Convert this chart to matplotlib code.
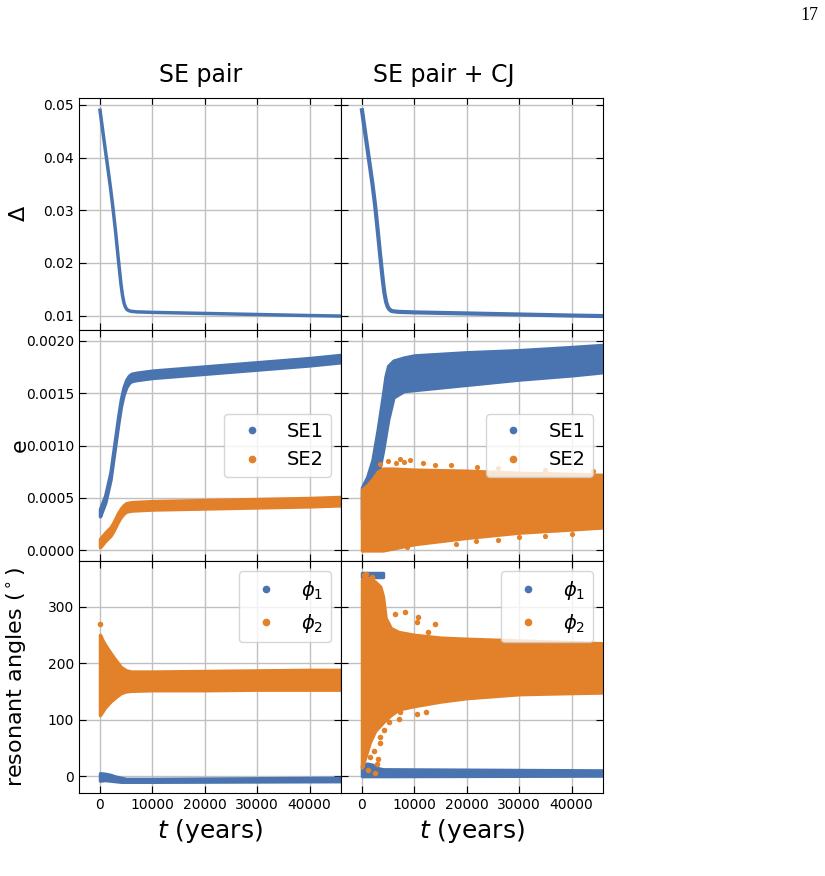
import matplotlib.pyplot as plt
from matplotlib.lines import Line2D

blue = '#4a74b0'
orange = '#e3802a'

# ---- Delta ----
t_delta_l = [0, 500, 1000, 1500, 2000, 2500, 3000, 3500, 4000, 4300, 4600, 4900, 5200, 5600, 6000, 7000, 10000, 20000, 30000, 40000, 46000]
delta_l = [0.0490, 0.0453, 0.0416, 0.0380, 0.0343, 0.0302, 0.0257, 0.0207, 0.0160, 0.0138, 0.0123, 0.0115, 0.0111, 0.0109, 0.0108, 0.0107, 0.0106, 0.0104, 0.0102, 0.0100, 0.0099]
t_delta_r = [0, 500, 1000, 1500, 2000, 2500, 3000, 3500, 4000, 4300, 4600, 4900, 5200, 5600, 6000, 7000, 10000, 20000, 30000, 40000, 46000]
delta_r = [0.0490, 0.0455, 0.0420, 0.0385, 0.0350, 0.0310, 0.0262, 0.0212, 0.0165, 0.0142, 0.0126, 0.0117, 0.0112, 0.0109, 0.0108, 0.0107, 0.0106, 0.0104, 0.0102, 0.0100, 0.0099]

# ---- eccentricities, SE pair ----
t_e1_l = [0, 1000, 2000, 3000, 3500, 4000, 4500, 5000, 5500, 6000, 7000, 10000, 20000, 30000, 40000, 46000]
e1_l_lo = [0.000325, 0.000455, 0.000675, 0.001035, 0.001215, 0.001375, 0.001485, 0.001555, 0.001595, 0.001615, 0.001625, 0.001645, 0.001685, 0.001725, 0.001765, 0.001795]
e1_l_hi = [0.000395, 0.000525, 0.000745, 0.001105, 0.001285, 0.001445, 0.001555, 0.001625, 0.001665, 0.001685, 0.001695, 0.001715, 0.001755, 0.001795, 0.001835, 0.001865]
t_e2_l = [0, 1000, 2000, 2500, 3000, 3500, 4000, 4500, 5000, 6000, 10000, 20000, 30000, 40000, 46000]
e2_l_lo = [0.00003, 0.00009, 0.00014, 0.00018, 0.00023, 0.00028, 0.00032, 0.00035, 0.00037, 0.00038, 0.00039, 0.00040, 0.00041, 0.00042, 0.00043]
e2_l_hi = [0.00011, 0.00017, 0.00022, 0.00026, 0.00031, 0.00036, 0.00040, 0.00043, 0.00045, 0.00046, 0.00047, 0.00048, 0.00049, 0.00050, 0.00051]

# ---- eccentricities, SE pair + CJ ----
t_e1_r = [0, 1000, 2000, 3000, 4000, 4500, 5000, 6000, 8000, 10000, 20000, 30000, 40000, 46000]
e1_r_hi = [0.00060, 0.00070, 0.00086, 0.00115, 0.00148, 0.00166, 0.00176, 0.00181, 0.00184, 0.00186, 0.00189, 0.00191, 0.00194, 0.00196]
e1_r_lo = [0.00030, 0.00040, 0.00052, 0.00070, 0.00095, 0.00110, 0.00125, 0.00146, 0.00152, 0.00153, 0.00158, 0.00163, 0.00167, 0.00170]
t_e2_r = [0, 1000, 2000, 3000, 4000, 6000, 10000, 20000, 30000, 40000, 46000]
e2_r_hi = [0.00058, 0.00062, 0.00068, 0.00075, 0.00078, 0.00078, 0.00077, 0.00076, 0.00074, 0.00073, 0.00072]
e2_r_lo = [0.00000, 0.00000, 0.00000, 0.00000, 0.00000, 0.00002, 0.00006, 0.00012, 0.00017, 0.00020, 0.00022]
e2_r_out_t = [3500, 5000, 6500, 7300, 8000, 9200, 11700, 14000, 17000, 22000, 26000, 35000, 44000,
              8500, 11000, 14800, 18000, 21800, 26000, 30000, 35000, 40000]
e2_r_out_e = [0.00082, 0.00085, 0.00083, 0.00087, 0.00084, 0.00086, 0.00083, 0.00081, 0.00081, 0.00080, 0.00079, 0.00077, 0.00076,
              0.00003, 0.00008, 0.00010, 0.00006, 0.00009, 0.00010, 0.00013, 0.00014, 0.00016]

# ---- resonant angles, SE pair ----
t_p1_l = [0, 1000, 2000, 3000, 4000, 5000, 6000, 10000, 46000]
p1_l_hi = [5, 4, 2, -1, -3, -5, -5, -5, -3]
p1_l_lo = [-8, -7, -8, -9, -10, -10, -10, -10, -9]
t_p2_l = [0, 500, 1000, 2000, 3000, 4000, 5000, 6000, 10000, 20000, 30000, 40000, 46000]
p2_l_hi = [250, 240, 232, 218, 205, 193, 187, 185, 185, 186, 187, 188, 188]
p2_l_lo = [108, 115, 122, 132, 140, 147, 150, 151, 152, 152, 153, 153, 153]
p2_l_out_t = [0]
p2_l_out_p = [270]

# ---- resonant angles, SE pair + CJ ----
t_p1_r = [0, 1000, 2000, 3000, 4000, 46000]
p1_r_hi = [20, 22, 20, 14, 12, 10]
p1_r_lo = [0, 0, 0, 0, 0, 1]
t_p1_r_top = [0, 4000]
p1_r_top_lo = [353, 353]
p1_r_top_hi = [359, 359]
t_p2_r = [0, 500, 1500, 2500, 3500, 4000, 4500, 5500, 7000, 10000, 15000, 20000, 30000, 40000, 46000]
p2_r_hi = [348, 352, 350, 344, 335, 318, 280, 262, 255, 250, 245, 243, 240, 237, 235]
p2_r_lo = [15, 30, 60, 80, 90, 95, 100, 108, 118, 124, 132, 138, 145, 147, 148]
p2_r_out_t = [6340, 8250, 10780, 10500, 13960, 12690, 7300, 10470, 12280, 6980, 5080, 4120, 3360, 2220, 3490, 1590, 2860, 1200, 2500, 800, 3000, 300, 2000]
p2_r_out_p = [287, 290, 281, 272, 269, 255, 113, 110, 113, 101, 95, 81, 69, 45, 58, 34, 22, 10, 5, 358, 30, 356, 353]

fig, axes = plt.subplots(3, 2, sharex=True, sharey='row', figsize=(8.25, 8.76))
plt.subplots_adjust(left=0.0958, right=0.7309, top=0.888, bottom=0.0947, wspace=0, hspace=0)


def band(ax, t, lo, hi, c):
    ax.fill_between(t, lo, hi, color=c, edgecolor=c, lw=2.5)


# row 1: Delta
axes[0, 0].plot(t_delta_l, delta_l, color=blue, lw=2.5)
axes[0, 1].plot(t_delta_r, delta_r, color=blue, lw=3)

# row 2: e
band(axes[1, 0], t_e1_l, e1_l_lo, e1_l_hi, blue)
band(axes[1, 0], t_e2_l, e2_l_lo, e2_l_hi, orange)
band(axes[1, 1], t_e1_r, e1_r_lo, e1_r_hi, blue)
band(axes[1, 1], t_e2_r, e2_r_lo, e2_r_hi, orange)
axes[1, 1].scatter(e2_r_out_t, e2_r_out_e, s=14, color=orange, lw=0)

# row 3: resonant angles
band(axes[2, 0], t_p1_l, p1_l_lo, p1_l_hi, blue)
band(axes[2, 0], t_p2_l, p2_l_lo, p2_l_hi, orange)
axes[2, 0].scatter(p2_l_out_t, p2_l_out_p, s=16, color=orange, lw=0)
band(axes[2, 1], t_p1_r, p1_r_lo, p1_r_hi, blue)
band(axes[2, 1], t_p1_r_top, p1_r_top_lo, p1_r_top_hi, blue)
band(axes[2, 1], t_p2_r, p2_r_lo, p2_r_hi, orange)
axes[2, 1].scatter(p2_r_out_t, p2_r_out_p, s=16, color=orange, lw=0)

for ax in axes.flat:
    ax.set_axisbelow(True)
    ax.grid(True, color='#c0c0c0', lw=1)
    ax.tick_params(direction='in', top=True, right=True, length=5, labelsize=10)
    ax.set_xlim(-4000, 46000)
    ax.set_xticks([0, 10000, 20000, 30000, 40000])

axes[0, 0].set_ylim(0.0073, 0.0513)
axes[0, 0].set_yticks([0.01, 0.02, 0.03, 0.04, 0.05])
axes[1, 0].set_ylim(-0.000105, 0.002105)
axes[1, 0].set_yticks([0, 0.0005, 0.001, 0.0015, 0.002])
axes[1, 0].set_yticklabels(['0.0000', '0.0005', '0.0010', '0.0015', '0.0020'])
axes[2, 0].set_ylim(-30, 380)
axes[2, 0].set_yticks([0, 100, 200, 300])

axes[0, 0].set_ylabel(r'$\Delta$', fontsize=16)
axes[1, 0].set_ylabel('e', fontsize=16)
axes[2, 0].set_ylabel(r'resonant angles ($^\circ$)', fontsize=16)
for ax in axes[:, 0]:
    ax.yaxis.set_label_coords(-0.19, 0.5)

for ax in axes[2, :]:
    ax.set_xlabel(r'$t$ (years)', fontsize=18)

axes[0, 0].text(0.464, 1.07, 'SE pair', transform=axes[0, 0].transAxes, ha='center', va='baseline', fontsize=17)
axes[0, 1].text(0.393, 1.07, 'SE pair + CJ', transform=axes[0, 1].transAxes, ha='center', va='baseline', fontsize=17)

e_handles = [Line2D([], [], marker='o', ls='none', color=blue, markersize=4.5),
             Line2D([], [], marker='o', ls='none', color=orange, markersize=4.5)]
for ax in axes[1, :]:
    ax.legend(e_handles, ['SE1', 'SE2'], loc='center right', fontsize=14)
for ax in axes[2, :]:
    ax.legend(e_handles, [r'$\phi_1$', r'$\phi_2$'], loc='upper right', fontsize=14)

fig.text(809 / 825, 1 - 16 / 876, '17', ha='center', va='center', family='Liberation Serif', fontsize=13)

plt.savefig('out.png', dpi=100)
